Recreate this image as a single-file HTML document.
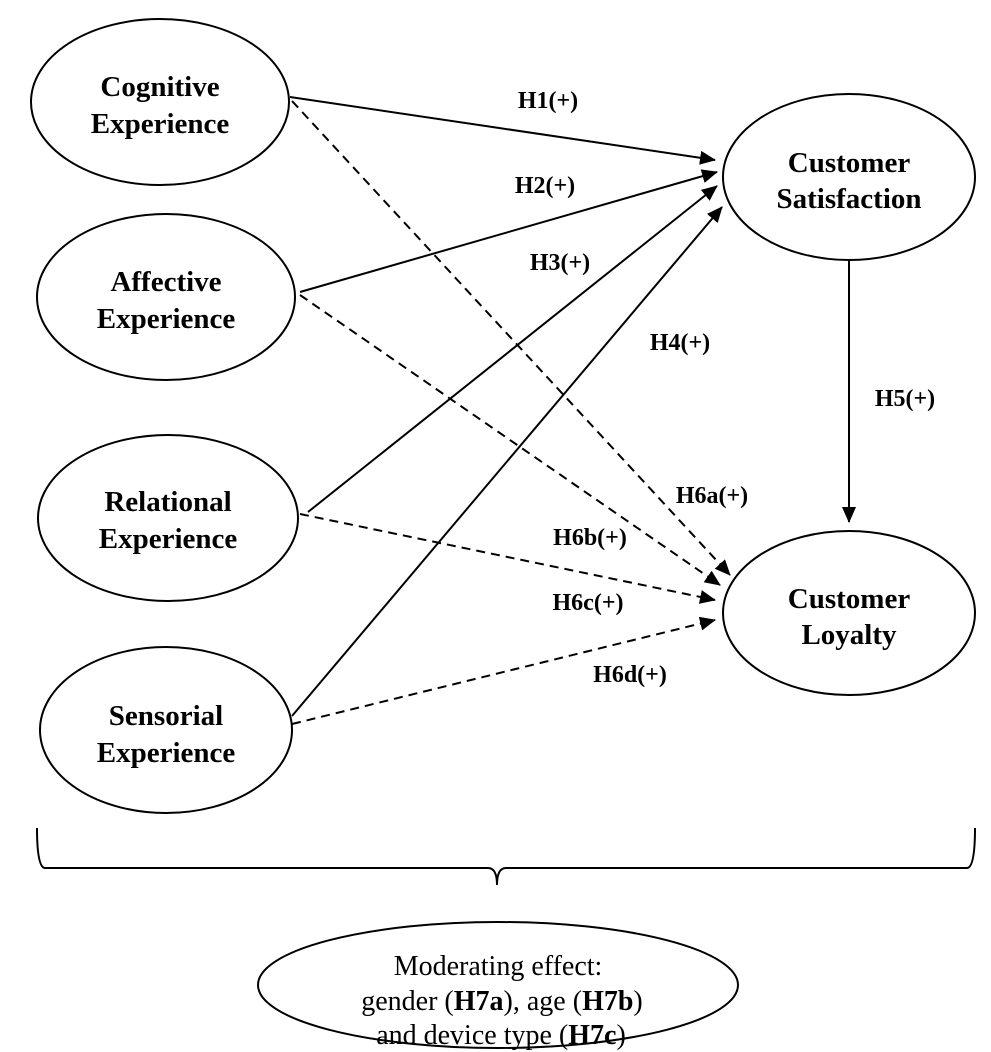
<!DOCTYPE html>
<html><head><meta charset="utf-8"><style>
html,body{margin:0;padding:0;background:#fff}
svg{display:block}
.n{font-family:"Liberation Serif",serif;font-weight:bold;font-size:29px;text-anchor:middle}
.l{font-family:"Liberation Serif",serif;font-weight:bold;font-size:24px;text-anchor:middle}
.m{font-family:"Liberation Serif",serif;font-size:28px;text-anchor:middle}
</style></head><body>
<svg width="991" height="1052" viewBox="0 0 991 1052" xmlns="http://www.w3.org/2000/svg">
<defs>
<marker id="b" markerWidth="16" markerHeight="14" refX="15" refY="7" orient="auto" markerUnits="userSpaceOnUse" viewBox="0 0 16 14"><path d="M0,0 L16,7 L0,14 z" fill="#000"/></marker></defs>
<g fill="none" stroke="#000" stroke-width="2">
<ellipse cx="160" cy="102" rx="129" ry="83"/>
<ellipse cx="166" cy="297" rx="129" ry="83"/>
<ellipse cx="168" cy="518" rx="130" ry="83"/>
<ellipse cx="166" cy="730" rx="126" ry="83"/>
<ellipse cx="849" cy="177" rx="126" ry="83"/>
<ellipse cx="849" cy="613" rx="126" ry="82"/>
<ellipse cx="498" cy="985" rx="240" ry="63"/>
<line x1="290" y1="97" x2="715" y2="160" marker-end="url(#b)"/>
<line x1="300" y1="292" x2="717" y2="172" marker-end="url(#b)"/>
<line x1="308" y1="512" x2="717" y2="186" marker-end="url(#b)"/>
<line x1="292" y1="716" x2="722" y2="207" marker-end="url(#b)"/>
<line x1="849" y1="260" x2="849" y2="522" marker-end="url(#b)"/>
<g stroke-dasharray="9,6">
<line x1="292" y1="101" x2="730" y2="575" marker-end="url(#b)"/>
<line x1="300" y1="295" x2="720" y2="585" marker-end="url(#b)"/>
<line x1="300" y1="514" x2="715" y2="600" marker-end="url(#b)"/>
<line x1="292" y1="724" x2="715" y2="620" marker-end="url(#b)"/>
</g>
<path d="M37,828 Q37,868 45,868 L488,868 Q497,868 497,885 Q497,868 506,868 L967,868 Q975,868 975,828"/>
</g>
<text class="n" x="160" y="96">Cognitive</text><text class="n" x="160" y="133">Experience</text>
<text class="n" x="166" y="291">Affective</text><text class="n" x="166" y="328">Experience</text>
<text class="n" x="168" y="511">Relational</text><text class="n" x="168" y="548">Experience</text>
<text class="n" x="166" y="725">Sensorial</text><text class="n" x="166" y="762">Experience</text>
<text class="n" x="849" y="172">Customer</text><text class="n" x="849" y="208">Satisfaction</text>
<text class="n" x="849" y="608">Customer</text><text class="n" x="849" y="644">Loyalty</text>
<text class="l" x="548" y="108">H1(+)</text>
<text class="l" x="545" y="193">H2(+)</text>
<text class="l" x="560" y="270">H3(+)</text>
<text class="l" x="680" y="350">H4(+)</text>
<text class="l" x="905" y="406">H5(+)</text>
<text class="l" x="712" y="503">H6a(+)</text>
<text class="l" x="590" y="545">H6b(+)</text>
<text class="l" x="588" y="610">H6c(+)</text>
<text class="l" x="630" y="682">H6d(+)</text>
<text class="m" x="498" y="975">Moderating effect:</text>
<text class="m" x="502" y="1010">gender (<tspan font-weight="bold">H7a</tspan>), age (<tspan font-weight="bold">H7b</tspan>)</text>
<text class="m" x="501" y="1044">and device type (<tspan font-weight="bold">H7c</tspan>)</text>
</svg>
</body></html>
